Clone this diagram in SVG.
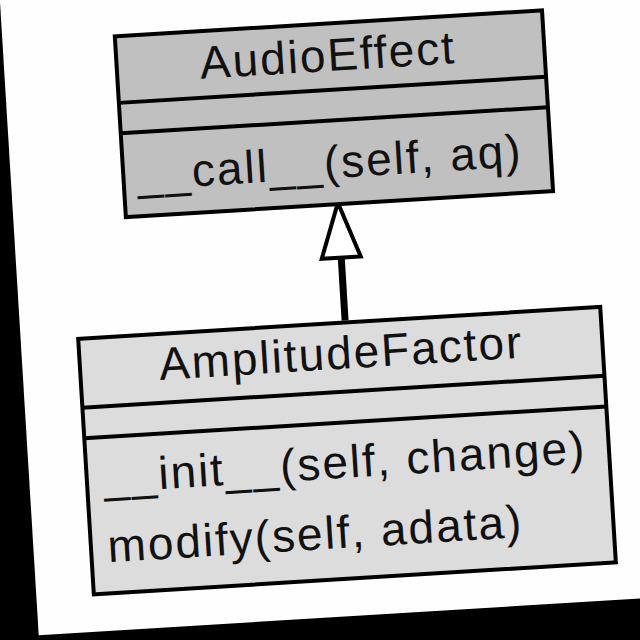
<svg xmlns="http://www.w3.org/2000/svg" width="640" height="640" viewBox="0 0 640 640">
  <style>
    .box { stroke: #000; stroke-width: 4; }
    .sep { stroke: #000; stroke-width: 4; }
    .t { font-family: "Liberation Sans", Arial, sans-serif; font-size: 46px; letter-spacing: 2px; fill: #111; }
    .title { text-anchor: middle; }
    .edge { stroke: #000; stroke-width: 7; fill: none; }
  </style>
  <defs>
    <marker id="gen" markerUnits="userSpaceOnUse" viewBox="-4 -24 64 48" markerWidth="64" markerHeight="48" refX="0" refY="0" orient="auto">
      <path d="M0,-19.5 L55,0 L0,19.5 Z" fill="#fff" stroke="#000" stroke-width="4" stroke-linejoin="miter"/>
    </marker>
  </defs>
  <rect x="0" y="0" width="640" height="640" fill="#000"/>
  <g transform="rotate(-3.5 320 320)">
    <rect x="20" y="-120" width="800" height="737.5" fill="#fefefe"/>
    <g id="connectors">
      <path class="edge" d="M345,322 L345,259" marker-end="url(#gen)"/>
    </g>
    <g id="AudioEffect">
      <rect class="box" x="132.5" y="24.5" width="428" height="181" fill="#c0c0c0"/>
      <line class="sep" x1="132.5" y1="91" x2="560.5" y2="91"/>
      <line class="sep" x1="132.5" y1="121.5" x2="560.5" y2="121.5"/>
      <text class="t title" x="344" y="72">AudioEffect</text>
      <text class="t" x="146" y="179">__call__(self, aq)</text>
    </g>
    <g id="AmplitudeFactor">
      <rect class="box" x="77.5" y="324" width="523" height="256" fill="#dcdcdc"/>
      <line class="sep" x1="77.5" y1="393" x2="600.5" y2="393"/>
      <line class="sep" x1="77.5" y1="423.7" x2="600.5" y2="423.7"/>
      <text class="t title" x="339" y="370">AmplitudeFactor</text>
      <text class="t" x="94" y="479">__init__(self, change)</text>
      <text class="t" x="94" y="549">modify(self, adata)</text>
    </g>
  </g>
</svg>
